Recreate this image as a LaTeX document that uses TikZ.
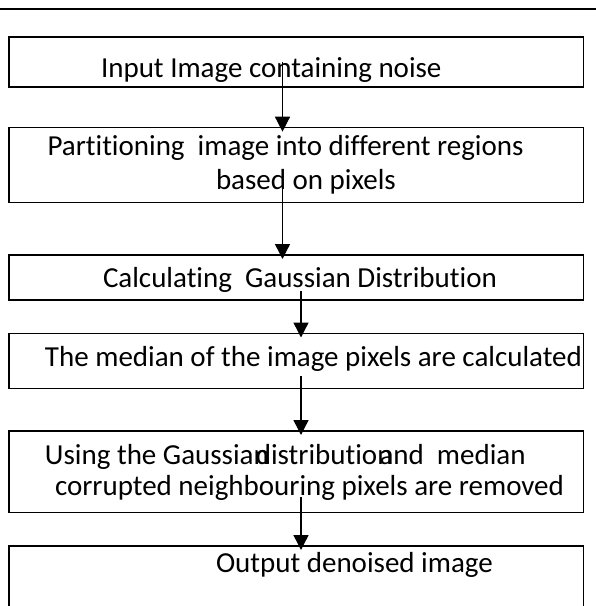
\documentclass[tikz,border=0pt]{standalone}
\usepackage{fontspec}
\setmainfont[Ligatures=NoCommon]{Carlito}
\usetikzlibrary{arrows.meta}
\tikzset{
  box/.style={draw=black, line width=1.3pt, rectangle, inner sep=0pt, outer sep=0pt, minimum width=574.5pt},
  txt/.style={inner sep=0pt, outer sep=0pt, anchor=base west, font=\fontsize{29pt}{33pt}\selectfont},
  arr/.style={line width=1.4pt, -{Triangle[width=15pt,length=15pt]}, shorten >=-4pt}
}
\begin{document}
\begin{tikzpicture}[x=1pt,y=-1pt]
\useasboundingbox (0,0) rectangle (596,606);
% top rule
\coordinate (rl) at (0,9);
\coordinate (rr) at (596,9);
\draw[line width=2pt] (rl) -- (rr);
% boxes
\node[box, minimum height=50pt] (b1) at (296.25,62) {};
\node[box, minimum height=75pt] (b2) at (296.25,165.2) {};
\node[box, minimum height=45pt] (b3) at (296.25,277.5) {};
\node[box, minimum height=54.8pt] (b4) at (296.25,360.9) {};
\node[box, minimum height=81.5pt] (b5) at (296.25,471.75) {};
\node[box, minimum height=61pt] (b6) at (296.25,576.5) {};
% texts
\node[txt] (t1) at (101,77) {Input Image containing noise};
\node[txt] (t2a) at (47.5,155) {Partitioning\ \ image into different regions};
\node[txt] (t2b) at (216,189) {based on pixels};
\node[txt] (t3) at (103,287) {Calculating\ \ Gaussian Distribution};
\node[txt] (t4) at (45,366) {The median of the image pixels are calculated};
\node[txt] (t5a) at (45,464) {Using the Gaussian\hspace{-13pt}distribution\hspace{-13pt}and\ \ median};
\node[txt] (t5b) at (55,495) {corrupted neighbouring pixels are removed};
\node[txt] (t6) at (216,572) {Output denoised image};
% arrow starts
\coordinate (s1) at (282.5,62);
\coordinate (s2) at (282.5,187);
\coordinate (s3) at (301,291);
\coordinate (s4) at (301,376);
\coordinate (s5) at (301,497);
\draw[arr] (s1) -- (s1 |- b2.north);
\draw[arr] (s2) -- (s2 |- b3.north);
\draw[arr] (s3) -- (s3 |- b4.north);
\draw[arr] (s4) -- (s4 |- b5.north);
\draw[arr] (s5) -- (s5 |- b6.north);
\end{tikzpicture}
\end{document}
